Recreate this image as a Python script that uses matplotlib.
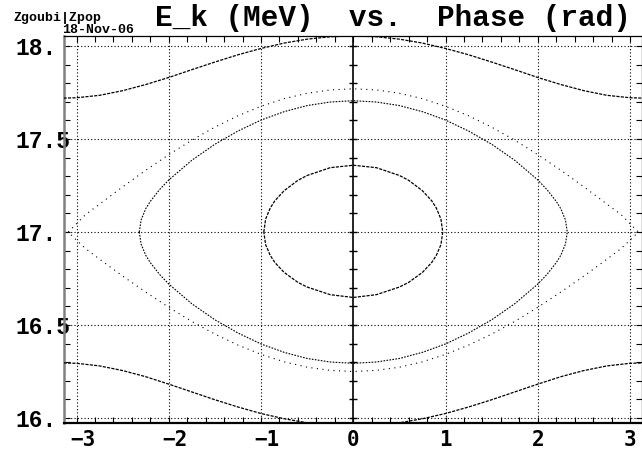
import matplotlib
matplotlib.use("Agg")
import matplotlib.pyplot as plt
from matplotlib.ticker import MultipleLocator
from matplotlib.transforms import ScaledTranslation
import numpy as np

# ---------------- data ----------------
# outer running trajectory above the bucket
run_top_phase = [-3.14, -3.0, -2.75, -2.5, -2.25, -2.0, -1.75, -1.5, -1.25, -1.0, -0.75, -0.5, -0.25, 0.0,
                 0.25, 0.5, 0.75, 1.0, 1.25, 1.5, 1.75, 2.0, 2.25, 2.5, 2.75, 3.0, 3.14]
run_top_ek = [17.720, 17.722, 17.735, 17.760, 17.793, 17.831, 17.873, 17.914, 17.953, 17.987, 18.016, 18.037, 18.050, 18.054,
              18.050, 18.037, 18.016, 17.987, 17.953, 17.914, 17.873, 17.831, 17.793, 17.760, 17.735, 17.722, 17.720]

# outer running trajectory below the bucket
run_bot_phase = run_top_phase
run_bot_ek = [16.296, 16.294, 16.280, 16.255, 16.222, 16.182, 16.140, 16.098, 16.059, 16.024, 15.996, 15.974, 15.961, 15.957,
              15.961, 15.974, 15.996, 16.024, 16.059, 16.098, 16.140, 16.182, 16.222, 16.255, 16.280, 16.294, 16.296]

# trajectory close to the separatrix (sparse dots)
sep_phase = [-3.09, -3.0, -2.9, -2.75, -2.5, -2.25, -2.0, -1.75, -1.5, -1.25, -1.0, -0.75, -0.5, -0.25, 0.0,
             0.25, 0.5, 0.75, 1.0, 1.25, 1.5, 1.75, 2.0, 2.25, 2.5, 2.75, 2.9, 3.0, 3.09]
sep_top_ek = [17.0, 17.045, 17.095, 17.150, 17.243, 17.332, 17.416, 17.494, 17.564, 17.625, 17.676, 17.717, 17.746, 17.764, 17.770,
              17.764, 17.746, 17.717, 17.676, 17.625, 17.564, 17.494, 17.416, 17.332, 17.243, 17.150, 17.095, 17.045, 17.0]
sep_bot_ek = [17.0, 16.956, 16.910, 16.854, 16.763, 16.677, 16.595, 16.519, 16.451, 16.392, 16.342, 16.302, 16.273, 16.256, 16.250,
              16.256, 16.273, 16.302, 16.342, 16.392, 16.451, 16.519, 16.595, 16.677, 16.763, 16.854, 16.910, 16.956, 17.0]

# inner large orbit (dense dots)
inner_phase = [-2.32, -2.3, -2.25, -2.2, -2.1, -2.0, -1.75, -1.5, -1.25, -1.0, -0.75, -0.5, -0.25, 0.0,
               0.25, 0.5, 0.75, 1.0, 1.25, 1.5, 1.75, 2.0, 2.1, 2.2, 2.25, 2.3, 2.32]
inner_top_ek = [17.0, 17.065, 17.125, 17.165, 17.228, 17.280, 17.386, 17.472, 17.543, 17.602, 17.647, 17.680, 17.699, 17.706,
                17.699, 17.680, 17.647, 17.602, 17.543, 17.472, 17.386, 17.280, 17.228, 17.165, 17.125, 17.065, 17.0]
inner_bot_ek = [17.0, 16.935, 16.875, 16.835, 16.772, 16.720, 16.614, 16.528, 16.457, 16.398, 16.353, 16.320, 16.301, 16.294,
                16.301, 16.320, 16.353, 16.398, 16.457, 16.528, 16.614, 16.720, 16.772, 16.835, 16.875, 16.935, 17.0]

# small orbit
small_phase = [-0.97, -0.95, -0.9, -0.85, -0.75, -0.6, -0.5, -0.25, 0.0, 0.25, 0.5, 0.6, 0.75, 0.85, 0.9, 0.95, 0.97]
small_top_ek = [17.0, 17.070, 17.129, 17.168, 17.222, 17.278, 17.304, 17.346, 17.359, 17.346, 17.304, 17.278, 17.222, 17.168, 17.129, 17.070, 17.0]
small_bot_ek = [17.0, 16.932, 16.874, 16.836, 16.783, 16.729, 16.704, 16.663, 16.648, 16.663, 16.704, 16.729, 16.783, 16.836, 16.874, 16.932, 17.0]

x_ticks = [-3, -2, -1, 0, 1, 2, 3]
x_ticklabels = ["\u22123", "\u22122", "\u22121", "0", "1", "2", "3"]
y_ticks = [16.0, 16.5, 17.0, 17.5, 18.0]
y_ticklabels = ["16.", "16.5", "17.", "17.5", "18."]

# ---------------- figure ----------------
W, H, DPI = 642, 450, 100
fig = plt.figure(figsize=(W / DPI, H / DPI), dpi=DPI)
fig.patch.set_facecolor("white")
ax = fig.add_axes([64 / W, 1 - 423 / H, (642 - 64) / W, (423 - 36) / H])
ax.set_xlim(-3.136, 3.13)
ax.set_ylim(15.973, 18.054)

mono = ["Liberation Mono", "DejaVu Sans Mono"]

# grid
for xv in x_ticks:
    if xv != 0:
        ax.axvline(xv, color="black", lw=0.8, ls=(0, (1, 2)), zorder=1)
for yv in y_ticks:
    ax.axhline(yv, color="black", lw=0.8, ls=(0, (1, 2)), zorder=1)
# vertical axis through zero, with cross ticks
ax.axvline(0, color="black", lw=1.2, zorder=2)
ax.plot([0] * 21, np.arange(16.0, 18.05, 0.1), ls="none", marker="_", ms=6, mew=1.0, color="black", zorder=2)

# curves
def loop(ph, top, bot):
    return list(ph) + list(ph[::-1]), list(top) + list(bot[::-1])

ax.plot(run_top_phase, run_top_ek, color="black", lw=0.9, ls=(0, (2.5, 1)), zorder=3)
ax.plot(run_bot_phase, run_bot_ek, color="black", lw=0.9, ls=(0, (2.5, 1)), zorder=3)
sx, sy = loop(sep_phase, sep_top_ek, sep_bot_ek)
ax.plot(sx, sy, color="black", lw=0.8, ls=(0, (1, 4)), zorder=3)
ix, iy = loop(inner_phase, inner_top_ek, inner_bot_ek)
ax.plot(ix, iy, color="black", lw=0.8, ls=(0, (1.5, 1.2)), zorder=3)
mx, my = loop(small_phase, small_top_ek, small_bot_ek)
ax.plot(mx, my, color="black", lw=0.9, ls=(0, (2.5, 1)), zorder=3)

# spines
ax.spines["left"].set_color("#808080")
ax.spines["left"].set_linewidth(1.8)
ax.spines["bottom"].set_color("black")
ax.spines["bottom"].set_linewidth(1.6)
ax.spines["top"].set_linewidth(0.9)
ax.spines["right"].set_linewidth(0.9)

# ticks
ax.set_xticks(x_ticks)
ax.set_xticklabels(x_ticklabels)
ax.set_yticks(y_ticks)
ax.set_yticklabels(y_ticklabels)
ax.xaxis.set_minor_locator(MultipleLocator(0.2))
ax.yaxis.set_minor_locator(MultipleLocator(0.1))
ax.tick_params(which="both", direction="in", top=True, right=True, length=4, width=0.8, color="black")
ax.tick_params(axis="y", which="major", pad=35)
ax.tick_params(axis="x", which="major", pad=5)
for lab in ax.get_yticklabels():
    lab.set_horizontalalignment("left")
    lab.set_fontfamily(mono)
    lab.set_fontweight("bold")
    lab.set_fontsize(16.5)
for lab, v in zip(ax.get_xticklabels(), x_ticks):
    lab.set_fontfamily(["DejaVu Sans Mono"])
    lab.set_fontweight("bold")
    lab.set_fontsize(15)
    if v < 0:
        lab.set_transform(lab.get_transform() + ScaledTranslation(6 / DPI, 0, fig.dpi_scale_trans))

# texts
fig.text(155 / W, 1 - 26 / H, "E_k (MeV)  vs.  Phase (rad)", family=mono, weight="bold",
         fontsize=21.2, ha="left", va="baseline")
fig.text(14 / W, 1 - 21 / H, "Zgoubi|Zpop", family=mono, weight="bold", fontsize=9.5, ha="left", va="baseline")
fig.text(62 / W, 1 - 33 / H, "18-Nov-06", family=mono, weight="bold", fontsize=9.5, ha="left", va="baseline")

fig.savefig("out.png", dpi=DPI, facecolor="white")
